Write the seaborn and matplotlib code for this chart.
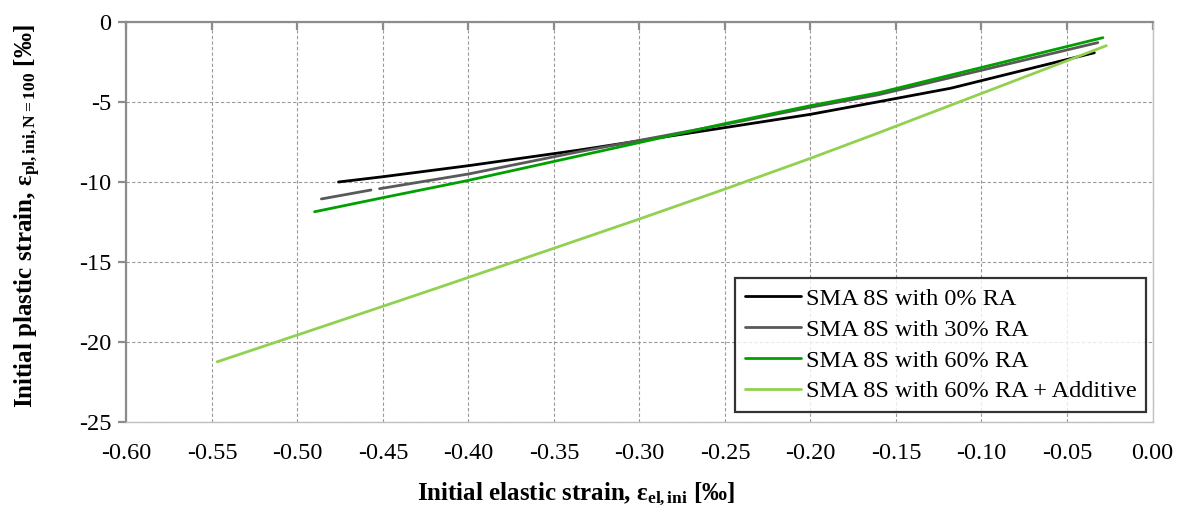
import pandas as pd
import seaborn as sns
from matplotlib import pyplot as plt
from matplotlib.ticker import FuncFormatter, MultipleLocator

# data
x_ra0 = [-0.476, -0.45, -0.40, -0.335, -0.25, -0.20, -0.16, -0.118, -0.034]
y_ra0 = [-10.0, -9.67, -8.98, -8.0, -6.6, -5.77, -4.98, -4.14, -1.92]

# 30% RA has a small gap near -0.455, so it comes in two pieces
x_ra30_a = [-0.486, -0.457]
y_ra30_a = [-11.06, -10.50]
x_ra30_b = [-0.452, -0.40, -0.335, -0.25, -0.20, -0.16, -0.032]
y_ra30_b = [-10.42, -9.50, -8.10, -6.40, -5.33, -4.54, -1.29]

x_ra60 = [-0.490, -0.45, -0.401, -0.335, -0.25, -0.20, -0.16, -0.029]
y_ra60 = [-11.86, -10.98, -9.92, -8.36, -6.35, -5.23, -4.42, -0.98]

x_add = [-0.547, -0.481, -0.417, -0.35, -0.30, -0.25, -0.20, -0.16, -0.027]
y_add = [-21.24, -18.88, -16.58, -14.14, -12.31, -10.44, -8.52, -6.92, -1.48]

labels = ["SMA 8S with 0% RA", "SMA 8S with 30% RA",
          "SMA 8S with 60% RA", "SMA 8S with 60% RA + Additive"]
colors = ["#000000", "#595959", "#00a000", "#92d050"]

#long table for seaborn
parts = [(labels[0], 0, x_ra0, y_ra0),
         (labels[1], 1, x_ra30_a, y_ra30_a),
         (labels[1], 2, x_ra30_b, y_ra30_b),
         (labels[2], 3, x_ra60, y_ra60),
         (labels[3], 4, x_add, y_add)]
rows = []
for name, seg, xs, ys in parts:
    for xv, yv in zip(xs, ys):
        rows.append({"series": name, "seg": seg, "x": xv, "y": yv})
df = pd.DataFrame(rows)

sns.set_theme(style="white")
plt.rcParams["font.family"] = ["Liberation Serif", "DejaVu Serif"]
plt.rcParams["mathtext.fontset"] = "custom"
plt.rcParams["mathtext.rm"] = "Liberation Serif"
plt.rcParams["mathtext.bf"] = "Liberation Serif:bold"
plt.rcParams["mathtext.it"] = "Liberation Serif:italic"
plt.rcParams["axes.unicode_minus"] = False
plt.rcParams["text.color"] = "black"
plt.rcParams["axes.labelcolor"] = "black"

fig = plt.figure(figsize=(11.84, 5.09), dpi=100)
ax = fig.add_axes([0.1068, 0.1709, 0.8666, 0.7859])

sns.lineplot(data=df, x="x", y="y", hue="series", hue_order=labels,
             palette=colors, units="seg", estimator=None, sort=False,
             linewidth=2.0, ax=ax)

ax.set_xlim(-0.60, 0.00)
ax.set_ylim(-25, 0)
ax.xaxis.set_major_locator(MultipleLocator(0.05))
ax.yaxis.set_major_locator(MultipleLocator(5))
ax.xaxis.set_major_formatter(FuncFormatter(lambda v, p: "%.2f" % v if abs(v) > 1e-9 else "0.00"))
ax.yaxis.set_major_formatter(FuncFormatter(lambda v, p: "%d" % round(v)))

ax.grid(True, color="#9a9a9a", linestyle=(0, (3, 2)), linewidth=0.8)
ax.set_axisbelow(True)

for side in ["bottom", "right"]:
    ax.spines[side].set_color("#c0c0c0")
    ax.spines[side].set_linewidth(1.0)
for side in ["left", "top"]:
    ax.spines[side].set_color("#8c8c8c")
    ax.spines[side].set_linewidth(1.6)

ax.tick_params(axis="x", bottom=False, top=True, labelbottom=True,
               direction="in", length=6, width=1.6, color="#8c8c8c",
               labelsize=17.5, pad=15, labelcolor="black")
ax.tick_params(axis="y", left=True, direction="out", length=6, width=1.6,
               color="#8c8c8c", labelsize=17.5, pad=5, labelcolor="black")

ax.set_xlabel("Initial elastic strain, ε$_{\\mathbf{el,ini}}$ [‰]",
              fontsize=18, fontweight="bold")
ax.set_ylabel("Initial plastic strain, ε$_{\\mathbf{pl,ini,N=100}}$ [‰]",
              fontsize=18, fontweight="bold")
ax.xaxis.set_label_coords(0.438, -0.148)
ax.yaxis.set_label_coords(-0.081, 0.515)

handles, lbls = ax.get_legend_handles_labels()
leg = ax.legend(handles, lbls, loc="lower right", bbox_to_anchor=(0.994, 0.025),
                fontsize=17.5, frameon=True, fancybox=False, handlelength=2.3,
                handletextpad=0.2, labelspacing=0.36, borderpad=0.4,
                borderaxespad=0)
leg.get_frame().set_edgecolor("black")
leg.get_frame().set_linewidth(1.6)
for line in leg.get_lines():
    line.set_linewidth(2.0)

fig.savefig("out.png", dpi=100)
